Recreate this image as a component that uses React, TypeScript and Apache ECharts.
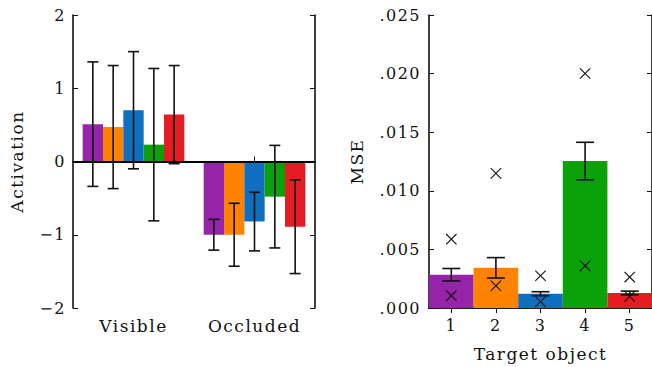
import React, { useEffect, useRef } from "react";
import * as echarts from "echarts";

// ---- Left panel data (activation) ----
const conditions = ["Visible", "Occluded"];
const objectColors = ["#9524a8", "#ff8200", "#106ebe", "#0ba10b", "#e41c23"];
const visibleMeans = [0.51, 0.47, 0.7, 0.23, 0.64];
const visibleErrs = [0.85, 0.84, 0.8, 1.04, 0.67];
const occludedMeans = [-1.0, -1.0, -0.82, -0.48, -0.89];
const occludedErrs = [0.21, 0.43, 0.4, 0.7, 0.64];
const activationTicks = [-2, -1, 0, 1, 2];

// ---- Right panel data (MSE) ----
const targetObjects = ["1", "2", "3", "4", "5"];
const mseMeans = [0.00284, 0.00343, 0.00122, 0.01254, 0.00128];
const mseErrs = [0.00053, 0.00087, 0.00017, 0.0016, 0.00016];
const mseHigh = [0.00587, 0.01149, 0.00275, 0.02001, 0.00264];
const mseLow = [0.00105, 0.0019, 0.00054, 0.0036, 0.00099];

const FONT = "DejaVu Serif";
const INK = "#111";
const GAP = 0.16;

export default function App() {
  const ref = useRef<HTMLDivElement>(null);
  useEffect(() => {
    if (!ref.current) return;
    const chart = echarts.init(ref.current, null, { renderer: "svg" });

    const axisLine = { show: true, lineStyle: { color: INK, width: 1.6 } };
    const tick = { show: true, inside: true, length: 5, lineStyle: { color: INK, width: 1 } };
    const catTick = { ...tick, alignWithLabel: true };
    const label = { color: INK, fontFamily: FONT, fontSize: 16 };
    const catLabel = { color: INK, fontFamily: FONT, fontSize: 17 };
    const nameStyle = { color: INK, fontFamily: FONT, fontSize: 17 };

    const n = objectColors.length;
    const barSeries = objectColors.map((c, i) => ({
      type: "bar",
      xAxisIndex: 0,
      yAxisIndex: 0,
      data: [visibleMeans[i], occludedMeans[i]],
      itemStyle: { color: c },
      barGap: "0%",
      barCategoryGap: `${GAP * 100}%`,
      z: 2,
      ...(i === 0
        ? {
            markLine: {
              silent: true,
              symbol: ["none", "none"],
              label: { show: false },
              lineStyle: { color: "#000", width: 2, type: "solid" },
              data: [{ yAxis: 0 }],
              z: 5,
            },
          }
        : {}),
    }));

    const leftErrData: number[][] = [];
    objectColors.forEach((_, i) => {
      leftErrData.push([0, i, visibleMeans[i], visibleErrs[i]]);
      leftErrData.push([1, i, occludedMeans[i], occludedErrs[i]]);
    });

    const errLine = (x: number, y1: number, y2: number, cap: number) => ({
      type: "group",
      children: [
        { type: "line", shape: { x1: x, y1, x2: x, y2 }, style: { stroke: INK, lineWidth: 1.6 } },
        { type: "line", shape: { x1: x - cap, y1, x2: x + cap, y2: y1 }, style: { stroke: INK, lineWidth: 1.6 } },
        { type: "line", shape: { x1: x - cap, y1: y2, x2: x + cap, y2 }, style: { stroke: INK, lineWidth: 1.6 } },
      ],
    });

    const option: any = {
      animation: false,
      textStyle: { fontFamily: FONT },
      grid: [
        { left: 73, top: 15, width: 242, height: 293 },
        { left: 429, top: 15, width: 224, height: 293 },
      ],
      xAxis: [
        {
          gridIndex: 0, type: "category", data: conditions, position: "bottom",
          axisLine, axisTick: catTick, splitLine: { show: false },
          axisLabel: { ...catLabel, margin: 9 },
        },
        {
          gridIndex: 0, type: "category", data: conditions, position: "top",
          axisLine, axisTick: catTick, splitLine: { show: false }, axisLabel: { show: false },
        },
        {
          gridIndex: 1, type: "category", data: targetObjects, position: "bottom",
          axisLine, axisTick: catTick, splitLine: { show: false },
          axisLabel: { ...label, margin: 9 },
          name: "Target object", nameLocation: "middle", nameGap: 37, nameTextStyle: nameStyle,
        },
        {
          gridIndex: 1, type: "category", data: targetObjects, position: "top",
          axisLine, axisTick: catTick, splitLine: { show: false }, axisLabel: { show: false },
        },
      ],
      yAxis: [
        {
          gridIndex: 0, type: "value", position: "left", min: activationTicks[0],
          max: activationTicks[activationTicks.length - 1], interval: 1,
          axisLine, axisTick: tick, splitLine: { show: false },
          axisLabel: {
            ...label, margin: 7,
            formatter: (v: number) => (v < 0 ? "\u2212" + Math.abs(v) : String(v)),
          },
          name: "Activation", nameLocation: "middle", nameGap: 48, nameTextStyle: nameStyle,
        },
        {
          gridIndex: 0, type: "value", position: "right", min: -2, max: 2, interval: 1,
          axisLine, axisTick: tick, splitLine: { show: false }, axisLabel: { show: false },
        },
        {
          gridIndex: 1, type: "value", position: "left", min: 0, max: 0.025, interval: 0.005,
          axisLine, axisTick: tick, splitLine: { show: false },
          axisLabel: {
            ...label, margin: 8,
            formatter: (v: number) => v.toFixed(3).replace(/^0/, ""),
          },
          name: "MSE", nameLocation: "middle", nameGap: 64, nameTextStyle: nameStyle,
        },
        {
          gridIndex: 1, type: "value", position: "right", min: 0, max: 0.025, interval: 0.005,
          axisLine, axisTick: tick, splitLine: { show: false }, axisLabel: { show: false },
        },
      ],
      series: [
        ...barSeries,
        {
          type: "custom",
          xAxisIndex: 0,
          yAxisIndex: 0,
          z: 10,
          data: leftErrData,
          renderItem: (params: any, api: any) => {
            const cat = api.value(0);
            const s = api.value(1);
            const mean = api.value(2);
            const err = api.value(3);
            const band = api.size([1, 0])[0];
            const bw = (band * (1 - GAP)) / n;
            const cx = api.coord([cat, 0])[0] + (s - (n - 1) / 2) * bw;
            const y1 = api.coord([cat, mean + err])[1];
            const y2 = api.coord([cat, mean - err])[1];
            return errLine(cx, y1, y2, 5.5);
          },
        },
        {
          type: "bar",
          xAxisIndex: 2,
          yAxisIndex: 2,
          barWidth: "100%",
          data: mseMeans.map((v, i) => ({ value: v, itemStyle: { color: objectColors[i] } })),
          z: 2,
        },
        {
          type: "custom",
          xAxisIndex: 2,
          yAxisIndex: 2,
          z: 10,
          data: mseMeans.map((m, i) => [i, m, mseErrs[i]]),
          renderItem: (params: any, api: any) => {
            const i = api.value(0);
            const m = api.value(1);
            const e = api.value(2);
            const cx = api.coord([i, 0])[0];
            const y1 = api.coord([i, m + e])[1];
            const y2 = api.coord([i, m - e])[1];
            return errLine(cx, y1, y2, 9);
          },
        },
        {
          type: "custom",
          xAxisIndex: 2,
          yAxisIndex: 2,
          z: 11,
          data: [
            ...mseHigh.map((v, i) => [i, v]),
            ...mseLow.map((v, i) => [i, v]),
          ],
          renderItem: (params: any, api: any) => {
            const p = api.coord([api.value(0), api.value(1)]);
            const r = 5.2;
            return {
              type: "group",
              children: [
                { type: "line", shape: { x1: p[0] - r, y1: p[1] - r, x2: p[0] + r, y2: p[1] + r }, style: { stroke: INK, lineWidth: 1.1 } },
                { type: "line", shape: { x1: p[0] - r, y1: p[1] + r, x2: p[0] + r, y2: p[1] - r }, style: { stroke: INK, lineWidth: 1.1 } },
              ],
            };
          },
        },
      ],
    };

    chart.setOption(option);
    return () => chart.dispose();
  }, []);

  return (
    <>
      <style>{`.chart-root text { letter-spacing: 1.5px; }`}</style>
      <div
        ref={ref}
        className="chart-root"
        style={{ position: "fixed", left: 0, top: 0, width: 652, height: 367, background: "#fff" }}
      />
    </>
  );
}
